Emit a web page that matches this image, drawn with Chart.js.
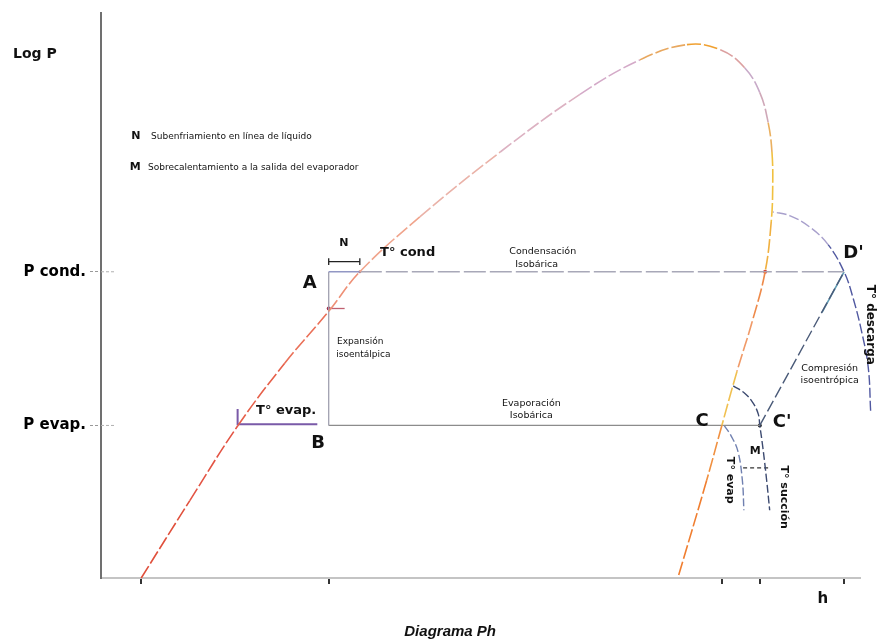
<!DOCTYPE html>
<html><head><meta charset="utf-8">
<script src="https://cdn.jsdelivr.net/npm/chart.js@4"></script>
<style>html,body{margin:0;padding:0;background:#fff}canvas{display:block}</style>
</head><body>
<canvas id="c" width="880" height="644"></canvas>
<script>
// ---- data (h and log P in arbitrary diagram units) ----
const pCond = 54.2;
const pEvap = 27;
const hA = 30;          // A / B enthalpy (isoenthalpic expansion)
const hC = 81.8;        // C  (saturated vapour at P evap)
const hC2 = 86.8;       // C' (suction, superheated)
const hD = 97.9;        // D' (discharge)
const hLiqBottom = 5.3;

const domeH    = [5.3, 11.7, 18.0, 24.2, 30.0, 34.1, 42.0, 52.6, 63.1, 71.0, 77.2, 81.6, 84.8, 86.8, 87.9, 88.4, 88.5, 88.3, 87.5, 85.8, 83.8, 81.8, 79.8, 76.0];
const domeLogP = [0, 13.7, 26.9, 38.0, 47.2, 54.2, 63.9, 75.4, 85.6, 91.7, 94.4, 93.5, 90.3, 85.9, 80.6, 75.4, 69.2, 63.0, 54.2, 45.4, 36.6, 27.0, 17.3, 0];

// discharge isotherm, listed from its lower end up to the dome
const tDischH    = [101.4, 101.1, 100.3, 99.1, 97.9, 95.8, 93.4, 90.8, 88.5];
const tDischLogP = [29.6, 37.1, 43.1, 49.5, 54.2, 59.0, 62.1, 64.1, 64.8];

const tSuctH    = [83.3, 84.8, 85.9, 86.6, 86.8, 87.2, 87.7, 88.1];
const tSuctLogP = [34.0, 32.7, 31.0, 29.0, 27.0, 23.1, 17.3, 12.0];

const tEvapVapH    = [82.1, 83.0, 83.9, 84.5, 84.7];
const tEvapVapLogP = [27.0, 25.2, 22.5, 17.3, 12.0];

const tEvapLiqH    = [18.0, 18.0, 28.5];
const tEvapLiqLogP = [29.9, 27.2, 27.2];

const subcoolH = [30.0, 34.1];
const subcoolLogP = 56.0;
const superheatH = [84.6, 87.9];
const superheatLogP = 19.5;

const xTicks = [hLiqBottom, hA, hC, hC2, hD];
const yTicks = [pEvap, pCond];
const yTickLabels = ['P evap.', 'P cond.'];

// ---- helpers ----
const pts = (hs, ps) => hs.map((h, i) => ({x: h, y: Array.isArray(ps) ? ps[i] : ps}));

const domeColors = ['#e0503c','#e35444','#e6604a','#ea7058','#ee9076','#f0a48c','#eab2a8','#dcb2c2','#d4aac8','#e8a860','#f0a030','#dca0a0','#c8aac8','#cfa8b8','#eab060','#f0c040','#f0c040','#f0b040','#ee8a4a','#f09a68','#f0c050','#f09040','#f07e30'];

const lineDS = (data, color, width, dash, extra) => Object.assign({
  type: 'scatter', data, showLine: true, borderColor: color, backgroundColor: color,
  borderWidth: width, borderDash: dash || [], pointRadius: 0, tension: 0, clip: false
}, extra || {});

const labels = [
  {t:'Log P', x:-11.6, y:92.6, f:'bold 14px "DejaVu Sans"', a:'left'},
  {t:'N', x:4.6, y:78.2, f:'bold 11px "DejaVu Sans"'},
  {t:'Subenfriamiento en línea de líquido', x:6.6, y:78.2, f:'9px "DejaVu Sans"', a:'left'},
  {t:'M', x:4.5, y:72.7, f:'bold 11px "DejaVu Sans"'},
  {t:'Sobrecalentamiento a la salida del evaporador', x:6.2, y:72.7, f:'9px "DejaVu Sans"', a:'left'},
  {t:'N', x:32.0, y:59.2, f:'bold 11px "DejaVu Sans"'},
  {t:'T° cond', x:40.4, y:57.6, f:'bold 13px "DejaVu Sans"'},
  {t:'A', x:27.5, y:52.1, f:'bold 18px "DejaVu Sans"'},
  {t:'Expansión', x:31.1, y:41.9, f:'9px "DejaVu Sans"', a:'left'},
  {t:'isoentálpica', x:31.0, y:39.5, f:'9px "DejaVu Sans"', a:'left'},
  {t:'Condensación', x:58.2, y:57.7, f:'9.5px "DejaVu Sans"'},
  {t:'Isobárica', x:57.4, y:55.5, f:'9.5px "DejaVu Sans"'},
  {t:'Evaporación', x:56.7, y:30.8, f:'9.5px "DejaVu Sans"'},
  {t:'Isobárica', x:56.7, y:28.7, f:'9.5px "DejaVu Sans"'},
  {t:'T° evap.', x:24.4, y:29.6, f:'bold 13px "DejaVu Sans"'},
  {t:'B', x:28.6, y:23.9, f:'bold 18px "DejaVu Sans"'},
  {t:'C', x:79.2, y:27.8, f:'bold 18px "DejaVu Sans"'},
  {t:"C'", x:88.5, y:27.6, f:'bold 18px "DejaVu Sans"', a:'left'},
  {t:"D'", x:97.8, y:57.4, f:'bold 18px "DejaVu Sans"', a:'left'},
  {t:'Compresión', x:96.0, y:37.1, f:'9.5px "DejaVu Sans"'},
  {t:'isoentrópica', x:96.0, y:34.9, f:'9.5px "DejaVu Sans"'},
  {t:'M', x:86.2, y:22.5, f:'bold 11px "DejaVu Sans"'},
  {t:'T° evap', x:82.9, y:17.3, f:'bold 11px "DejaVu Sans"', r:Math.PI/2},
  {t:'T° succión', x:90.0, y:14.3, f:'bold 11px "DejaVu Sans"', r:Math.PI/2},
  {t:'T° descarga', x:101.3, y:51.9, f:'bold 12px "DejaVu Sans"', r:Math.PI/2, a:'left'},
  {t:'h', x:95.1, y:-3.7, f:'bold 15px "DejaVu Sans"'},
  {t:'Diagrama Ph', x:46.0, y:-9.5, f:'italic bold 15px "Liberation Sans"'}
];

const labelPlugin = {
  id: 'labels',
  afterDatasetsDraw(chart) {
    const {ctx, scales: {x, y}} = chart;
    labels.forEach(l => {
      ctx.save();
      ctx.translate(x.getPixelForValue(l.x), y.getPixelForValue(l.y));
      if (l.r) ctx.rotate(l.r);
      ctx.font = l.f;
      ctx.fillStyle = l.c || '#111';
      ctx.textAlign = l.a || 'center';
      ctx.textBaseline = 'middle';
      ctx.fillText(l.t, 0, 0);
      ctx.restore();
    });
  }
};

const datasets = [
  // saturation dome
  lineDS(pts(domeH, domeLogP), '#e8604a', 1.6, [14, 3], {
    tension: 0.4,
    segment: { borderColor: c => domeColors[c.p0DataIndex] || '#f08030' }
  }),
  // condensation isobar A -> D'
  lineDS(pts([hA, 34.1], [pCond, pCond]), '#8a90c0', 1.4),
  lineDS(pts([34.1, hD], [pCond, pCond]), '#a8a8b8', 1.3, [22, 4]),
  // expansion A -> B
  lineDS(pts([hA, hA], [pCond, pEvap]), '#a0a0b0', 1.3),
  // evaporation B -> C'
  lineDS(pts([hA, hC2], [pEvap, pEvap]), '#8c8c8c', 1.3),
  // compression C' -> D'
  lineDS(pts([hC2, hD], [pEvap, pCond]), '#4a5a78', 1.4, [12, 4]),
  lineDS(pts([95.0, hD], [47.0, pCond]), '#5e9ab2', 1.6),
  // discharge isotherm
  lineDS(pts(tDischH, tDischLogP), '#5058a0', 1.4, [10, 3], { tension: 0.4,
    segment: { borderColor: c => c.p0DataIndex >= 5 ? '#a8a0cc' : '#5058a0' } }),
  // suction isotherm (superheat arch)
  lineDS(pts(tSuctH, tSuctLogP), '#3c4a70', 1.4, [8, 3], { tension: 0.4 }),
  // evaporation isotherm in vapour region
  lineDS(pts(tEvapVapH, tEvapVapLogP), '#7080b0', 1.4, [8, 3], { tension: 0.4 }),
  // evaporation isotherm in liquid region
  lineDS(pts(tEvapLiqH, tEvapLiqLogP), '#7a5aa8', 2),
  // subcooling bracket N
  lineDS(pts([subcoolH[0], subcoolH[0], subcoolH[0], subcoolH[1], subcoolH[1], subcoolH[1]],
             [subcoolLogP + 0.6, subcoolLogP - 0.6, subcoolLogP, subcoolLogP, subcoolLogP + 0.6, subcoolLogP - 0.6]), '#222', 1.3),
  // superheat M
  lineDS(pts(superheatH, [superheatLogP, superheatLogP]), '#333', 1.2, [4, 3]),
  // P cond / P evap tick stubs inside plot
  lineDS(pts([0, 1.8], [pCond, pCond]), '#b0b0b0', 1, [3, 2]),
  lineDS(pts([0, 1.8], [pEvap, pEvap]), '#b0b0b0', 1, [3, 2]),
  // small marks
  lineDS(pts([hA, 32.1], [47.7, 47.7]), '#c06070', 1.3),
  { type: 'scatter', data: pts([hA, 87.5, 34.1, hC2], [47.7, pCond, pCond, pEvap]),
    pointRadius: [2, 2, 1.5, 2], backgroundColor: ['#a03050', '#d04040', '#c08080', '#222'], borderWidth: 0, clip: false }
];

new Chart(document.getElementById('c'), {
  type: 'scatter',
  data: { datasets },
  options: {
    responsive: false,
    animation: false,
    layout: { padding: { left: 0, top: 10, right: 20, bottom: 0 } },
    plugins: { legend: { display: false }, tooltip: { enabled: false } },
    scales: {
      x: {
        type: 'linear', min: 0, max: 100,
        afterBuildTicks: s => { s.ticks = xTicks.map(v => ({value: v})); },
        afterFit: s => { s.height = 66; },
        ticks: { display: false },
        grid: { drawOnChartArea: false, drawTicks: true, tickLength: 6, color: '#333', lineWidth: 2 },
        border: { display: true, color: '#c4c4c4', width: 2 }
      },
      y: {
        type: 'linear', min: 0, max: 100,
        afterBuildTicks: s => { s.ticks = yTicks.map(v => ({value: v})); },
        afterFit: s => { s.width = 101; },
        ticks: {
          padding: 4, color: '#000',
          font: { family: 'DejaVu Sans', weight: 'bold', size: 15 },
          callback: (v) => yTickLabels[yTicks.indexOf(v)] ?? ''
        },
        grid: { drawOnChartArea: false, drawTicks: true, tickLength: 11, color: '#999', lineWidth: 1, tickBorderDash: [3, 2] },
        border: { display: true, color: '#707070', width: 2 }
      }
    }
  },
  plugins: [labelPlugin]
});
</script>
</body></html>
